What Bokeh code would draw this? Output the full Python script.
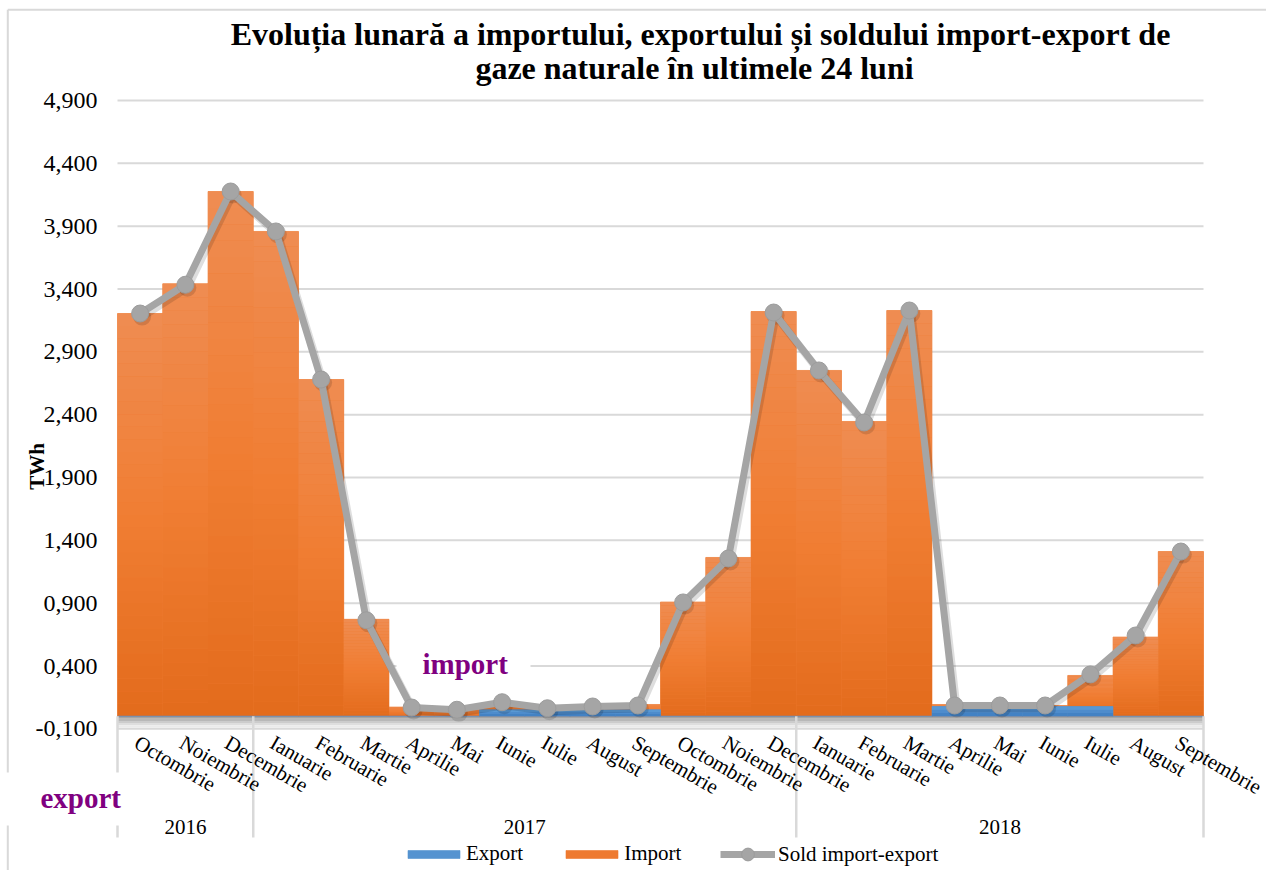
import math
from bokeh.plotting import figure
from bokeh.models import Range1d, Legend, LegendItem
from bokeh.core.properties import value
from bokeh.embed import file_html
from bokeh.resources import INLINE

# ---------------- data ----------------
months = ["Octombrie", "Noiembrie", "Decembrie",
          "Ianuarie", "Februarie", "Martie", "Aprilie", "Mai", "Iunie",
          "Iulie", "August", "Septembrie", "Octombrie", "Noiembrie", "Decembrie",
          "Ianuarie", "Februarie", "Martie", "Aprilie", "Mai", "Iunie",
          "Iulie", "August", "Septembrie"]
years = ["2016"] * 3 + ["2017"] * 12 + ["2018"] * 9
import_vals = [3.205, 3.442, 4.176, 3.858, 2.680, 0.772, 0.074, 0.052, 0.100,
               0.070, 0.078, 0.094, 0.910, 1.264, 3.221, 2.752, 2.346, 3.229,
               0.094, 0.086, 0.086, 0.325, 0.631, 1.311]
export_vals = [0.0, 0.0, 0.0, 0.0, 0.0, 0.0, 0.0, 0.0, 0.052,
               0.052, 0.052, 0.052, 0.0, 0.0, 0.0, 0.0, 0.0, 0.0,
               0.078, 0.078, 0.078, 0.078, 0.0, 0.0]
sold_vals = [3.205, 3.434, 4.176, 3.858, 2.680, 0.764, 0.070, 0.052, 0.112,
             0.064, 0.078, 0.086, 0.906, 1.256, 3.213, 2.752, 2.338, 3.229,
             0.086, 0.086, 0.086, 0.333, 0.643, 1.311]
yticks = [-0.1, 0.4, 0.9, 1.4, 1.9, 2.4, 2.9, 3.4, 3.9, 4.4, 4.9]
ytick_labels = [f"{t:.3f}".replace(".", ",") for t in yticks]
title_lines = ["Evoluția lunară a importului, exportului și soldului import-export de",
               "gaze naturale în ultimele 24 luni"]
y_title = "TWh"

# ---------------- layout helpers (screen pixel -> data) ----------------
PX_PER_X = 45.25
PX_PER_Y = 125.67
X_LEFT_PX = 117.0
ZERO_PX = 715.8
W, H = 1266, 870


def X(px):
    return -0.5 + (px - X_LEFT_PX) / PX_PER_X


def Y(py):
    return (ZERO_PX - py) / PX_PER_Y


def hex2rgb(h):
    return [int(h[i:i + 2], 16) for i in (1, 3, 5)]


def grad(stops, f):
    for (f0, c0), (f1, c1) in zip(stops[:-1], stops[1:]):
        if f0 <= f <= f1:
            t = (f - f0) / (f1 - f0) if f1 > f0 else 0
            a, b = hex2rgb(c0), hex2rgb(c1)
            return "#%02x%02x%02x" % tuple(round(a[k] + (b[k] - a[k]) * t) for k in range(3))
    return stops[-1][1]


FONT = "Liberation Serif"
GRID = "#D9D9D9"
ORANGE = "#EE7A30"
BLUE = "#5593D0"
ORANGE_STOPS = [(0.0, "#E36B1C"), (0.5, "#F07E33"), (1.0, "#EF8C52")]
BLUE_STOPS = [(0.0, "#3E7CC0"), (1.0, "#5D9DD8")]
n = len(months)
xs = list(range(n))

p = figure(width=W, height=H,
           x_range=Range1d(X(0), X(W)), y_range=Range1d(Y(H), Y(0)),
           output_backend="svg", toolbar_location=None,
           x_axis_location=None, y_axis_location=None,
           min_border_left=0, min_border_right=0, min_border_top=0,
           min_border_bottom=0, outline_line_color=None,
           background_fill_color="white", border_fill_color="white")
p.xgrid.visible = False
p.ygrid.visible = False

# baseline shaded band (axis line with soft shadow)
band_cols = ["#A3A3A3", "#B8B8B8", "#CCCCCC", "#DEDEDE", "#EBEBEB"]
for i, c in enumerate(band_cols):
    p.quad(left=[-0.5], right=[n - 0.5], top=[Y(716.0 + i * 2.2)],
           bottom=[Y(716.0 + (i + 1) * 2.2)], fill_color=c, line_color=None)

# gridlines (only across the category span)
p.segment(x0=[-0.5] * len(yticks), x1=[n - 0.5] * len(yticks), y0=yticks,
          y1=yticks, line_color=GRID, line_width=2)

# import bars (base bar + vertical gradient strips of the same bar)
r_imp = p.vbar(x=xs, top=import_vals, bottom=0, width=1.0,
               fill_color=ORANGE, line_color=ORANGE, line_width=0.6)
NS = 32
for k in range(NS):
    c = grad(ORANGE_STOPS, (k + 0.5) / NS)
    p.vbar(x=xs, bottom=[v * k / NS for v in import_vals],
           top=[v * (k + 1) / NS for v in import_vals], width=1.0,
           fill_color=c, line_color=None)

# export bars
r_exp = p.vbar(x=xs, top=export_vals, bottom=0, width=1.0,
               fill_color=BLUE, line_color=BLUE, line_width=0.6)
for k in range(3):
    c = grad(BLUE_STOPS, (k + 0.5) / 3)
    p.vbar(x=xs, bottom=[v * k / 3 for v in export_vals],
           top=[v * (k + 1) / 3 for v in export_vals], width=1.0,
           fill_color=c, line_color=None)

# year separators on the category axis
bounds = [-0.5]
for i in range(1, n):
    if years[i] != years[i - 1]:
        bounds.append(i - 0.5)
bounds.append(n - 0.5)
p.segment(x0=bounds, x1=bounds, y0=[0] * len(bounds), y1=[Y(837)] * len(bounds),
          line_color=GRID, line_width=2.5)

# chart area border (left / top)
p.segment(x0=[X(7.3), X(7.3)], x1=[X(7.3), X(W)], y0=[Y(9.3), Y(9.3)],
          y1=[Y(H), Y(9.3)], line_color=GRID, line_width=2)

# white text boxes of the two overlaid captions
p.quad(left=[X(396), X(4)], right=[X(530), X(125)], top=[Y(640), Y(772)],
       bottom=[Y(677), Y(825)], fill_color="white", line_color=None)

# shadow of the line (same data, scales shifted by a few pixels)
sx = 2.0 / PX_PER_X
sy = 3.0 / PX_PER_Y
p.extra_x_ranges = {"sh": Range1d(X(0) - sx, X(W) - sx)}
p.extra_y_ranges = {"sh": Range1d(Y(H) + sy, Y(0) + sy)}
p.line(xs, sold_vals, line_color="black", line_alpha=0.13, line_width=8,
       line_join="round", x_range_name="sh", y_range_name="sh")
p.scatter(xs, sold_vals, size=18, fill_color="black", fill_alpha=0.13,
          line_color=None, x_range_name="sh", y_range_name="sh")

# sold line
r_line = p.line(xs, sold_vals, line_color="#A5A5A5", line_width=7,
                line_join="round")
r_pts = p.scatter(xs, sold_vals, size=17, fill_color="#A5A5A5",
                  line_color="#9C9C9C", line_width=1)

# y tick labels
p.text(x=[X(97)] * len(yticks), y=yticks, text=ytick_labels,
       text_align="right", text_baseline="middle", text_font=value(FONT),
       text_font_size="24px", text_color="#000000")
# y axis title
p.text(x=[X(36)], y=[Y(466)], text=[y_title], angle=math.pi / 2,
       text_align="center", text_baseline="middle", text_font=value(FONT),
       text_font_size="21px", text_font_style="bold", text_color="#000000")

# month labels
p.text(x=xs, y=[Y(730)] * n, text=months, angle=-math.pi / 6,
       text_align="left", text_baseline="top", x_offset=2,
       text_font=value(FONT), text_font_size="21px", text_color="#000000")

# year labels
groups = []
for yv in years:
    if yv not in groups:
        groups.append(yv)
centers = [sum(i for i in xs if years[i] == g) / years.count(g) for g in groups]
p.text(x=centers, y=[Y(826)] * len(groups), text=groups, text_align="center",
       text_baseline="middle", text_font=value(FONT), text_font_size="21px",
       text_color="#000000")

# title
p.text(x=[X(700), X(694)], y=[Y(33.5), Y(67.5)], text=title_lines,
       text_align="center", text_baseline="middle", text_font=value(FONT),
       text_font_size="32px", text_font_style="bold", text_color="#000000")

# overlaid captions
p.text(x=[X(422), X(40)], y=[Y(663), Y(797)], text=["import", "export"],
       text_align="left", text_baseline="middle", text_font=value(FONT),
       text_font_size="29px", text_font_style="bold", text_color="#800080")

# legends
leg1 = Legend(items=[LegendItem(label="Export", renderers=[r_exp]),
                     LegendItem(label="Import", renderers=[r_imp])],
              orientation="horizontal", location=(401, 4), glyph_width=65,
              glyph_height=10, label_standoff=0, spacing=36, padding=0,
              margin=0, border_line_color=None, background_fill_alpha=0,
              label_text_font=FONT, label_text_font_size="21px",
              label_text_color="#000000")
leg2 = Legend(items=[LegendItem(label="Sold import-export",
                                renderers=[r_line, r_pts])],
              orientation="horizontal", location=(720, 0), glyph_width=55,
              glyph_height=32, label_standoff=3, padding=0, margin=0,
              border_line_color=None, background_fill_alpha=0,
              label_text_font=FONT, label_text_font_size="21px",
              label_text_color="#000000")
p.add_layout(leg1)
p.add_layout(leg2)

open("out.html", "w").write(file_html(p, INLINE))
